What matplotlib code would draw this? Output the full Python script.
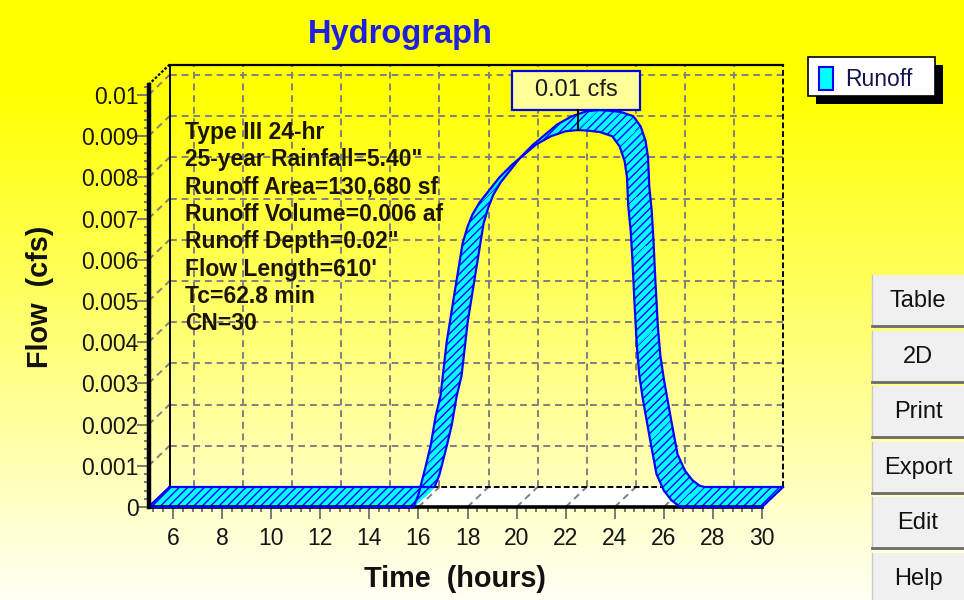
import numpy as np
import matplotlib
matplotlib.use("Agg")
import matplotlib.pyplot as plt
import matplotlib.transforms as mtransforms
from matplotlib.patches import Polygon, Rectangle
from matplotlib.lines import Line2D
from matplotlib.ticker import FixedLocator

# runoff hydrograph, front edge of the ribbon
time_hr = [5.0, 15.8, 16.0, 16.3, 16.5, 16.7, 16.9, 17.15, 17.5, 17.8,
           18.0, 18.2, 18.5, 18.9, 19.3, 19.8, 20.2, 20.8, 21.4, 22.0,
           22.5, 23.0, 23.4, 23.9, 24.2, 24.4, 24.5, 24.55, 24.65, 24.72,
           24.8, 24.9, 25.0, 25.15, 25.45, 25.7, 26.0, 26.3, 26.6, 26.8, 30.0]
flow_cfs = [0.0, 0.0, 0.0003, 0.0010, 0.0015, 0.0022, 0.0027, 0.0040, 0.0053, 0.0064,
            0.0068, 0.0071, 0.0074, 0.0077, 0.0080, 0.0083, 0.0085, 0.0088, 0.0090, 0.00912,
            0.00915, 0.00913, 0.0091, 0.0090, 0.00875, 0.0084, 0.0080, 0.0073, 0.0067, 0.0060,
            0.0050, 0.0039, 0.0032, 0.0026, 0.0016, 0.0008, 0.0004, 0.00017, 0.00003, 0.0, 0.0]

x_ticks = [6, 8, 10, 12, 14, 16, 18, 20, 22, 24, 26, 28, 30]
y_ticks = [0, 0.001, 0.002, 0.003, 0.004, 0.005, 0.006, 0.007, 0.008, 0.009, 0.01]
y_labels = ["0", "0.001", "0.002", "0.003", "0.004", "0.005",
            "0.006", "0.007", "0.008", "0.009", "0.01"]
info_lines = ["Type III 24-hr", '25-year Rainfall=5.40"', "Runoff Area=130,680 sf",
              "Runoff Volume=0.006 af", 'Runoff Depth=0.02"', "Flow Length=610'",
              "Tc=62.8 min", "CN=30"]
buttons = ["Table", "2D", "Print", "Export", "Edit", "Help"]
series_name = "Runoff"
peak_label = "0.01 cfs"

plt.rcParams['font.family'] = ['Liberation Sans', 'DejaVu Sans']
plt.rcParams['hatch.color'] = '#0000ff'
plt.rcParams['hatch.linewidth'] = 1.0

W, H = 964, 600
fig = plt.figure(figsize=(W / 100, H / 100), dpi=100)


def fx(px):
    return px / W


def fy(py):
    return 1 - py / H


# yellow -> cream background
bg = fig.add_axes([0, 0, 1, 1], zorder=-5)
rows = np.clip((np.arange(H) - 90) / (H - 90), 0, 1)
grad = np.ones((H, 1, 3))
grad[:, 0, 2] = rows * 0.96
bg.imshow(grad, aspect='auto', extent=[0, 1, 0, 1], origin='upper')
bg.axis('off')

# pseudo 3d box: front axes plus a depth shift
left_px, base_px = 148.5, 507
hr_px, cfs_px = 24.54, 41200
depth_x, depth_y = 21, 20
t0, t1, q_top = 5, 30, 0.01025
ddx = depth_x / hr_px
ddy = depth_y / cfs_px
aw = (t1 - t0) * hr_px + depth_x
ah = q_top * cfs_px + depth_y

ax = fig.add_axes([fx(left_px), fy(base_px), aw / W, ah / H])
ax.set_xlim(t0, t1 + ddx)
ax.set_ylim(0, q_top + ddy)
ax.set_facecolor('none')
for s in ax.spines.values():
    s.set_visible(False)

grid_kw = dict(color='#808080', lw=1.4, ls=(0, (3.5, 2.5)), zorder=1.5, clip_on=False)
# back wall grid
for v in x_ticks[:-1]:
    ax.plot([v + ddx, v + ddx], [ddy, q_top + ddy], **grid_kw)
for v in y_ticks[1:]:
    ax.plot([t0 + ddx, t1 + ddx], [v + ddy, v + ddy], **grid_kw)
    ax.plot([t0, t0 + ddx], [v, v + ddy], **grid_kw)

# floor
ax.add_patch(Polygon([(t0, 0), (t1, 0), (t1 + ddx, ddy), (t0 + ddx, ddy)],
                     facecolor='white', edgecolor='none', zorder=1))
for v in x_ticks:
    ax.plot([v, v + ddx], [0, ddy], **grid_kw)

# box edges
edge_kw = dict(color='black', clip_on=False, zorder=2)
ax.plot([t0 + ddx, t1 + ddx], [q_top + ddy] * 2, lw=1.6, **edge_kw)
ax.plot([t0 + ddx] * 2, [ddy, q_top + ddy], lw=1.4, **edge_kw)
ax.plot([t1 + ddx] * 2, [ddy, q_top + ddy], lw=1.4, ls=(0, (3, 1.5)), **edge_kw)
ax.plot([t0 + ddx, t1 + ddx], [ddy, ddy], lw=1.4, ls=(0, (3, 1.5)), **edge_kw)
ax.plot([t0, t0 + ddx], [q_top, q_top + ddy], lw=1.6, ls=(0, (1.2, 0.8)), **edge_kw)

# runoff ribbon
t = np.array(time_hr)
q = np.array(flow_cfs)
for i in range(len(t) - 1):
    quad = [(t[i], q[i]), (t[i + 1], q[i + 1]),
            (t[i + 1] + ddx, q[i + 1] + ddy), (t[i] + ddx, q[i] + ddy)]
    ax.add_patch(Polygon(quad, closed=True, facecolor='#00ffff', hatch='////',
                         linewidth=0, antialiased=False, zorder=3, clip_on=False))
line_kw = dict(color='#0000ff', lw=1.6, zorder=4, clip_on=False, solid_joinstyle='round')
ax.plot(t, q, **line_kw)
ax.plot(t + ddx, q + ddy, **line_kw)
ax.plot([t[0], t[0] + ddx], [q[0], q[0] + ddy], **line_kw)
ax.plot([t[-1], t[-1] + ddx], [q[-1], q[-1] + ddy], **line_kw)

# front axes lines
ax.plot([t0, t1], [0, 0], color='black', lw=2.6, zorder=3.5, clip_on=False)
ax.plot([t0, t0], [0, q_top], color='black', lw=3.2, zorder=5, clip_on=False)

# ticks
ax.xaxis.set_major_locator(FixedLocator(x_ticks))
ax.set_xticklabels([str(v) for v in x_ticks])
ax.xaxis.set_minor_locator(FixedLocator(np.arange(5.2, 30.01, 0.4)))
ax.set_yticks(y_ticks, labels=y_labels)
ax.yaxis.set_minor_locator(FixedLocator(np.arange(0.0002, 0.01021, 0.0002)))
ax.tick_params(which='both', direction='out', color='#707070', width=1.3,
               labelsize=16.5, labelcolor='#151515')
ax.tick_params(which='major', length=8.5)
ax.tick_params(which='minor', length=3.5)
ax.tick_params(axis='x', which='major', pad=6)
ax.tick_params(axis='y', which='major', pad=-1.5)

# peak label
ip = int(np.argmax(q))
off = fig.dpi_scale_trans + mtransforms.ScaledTranslation(t[ip], q[ip], ax.transData)
ax.add_patch(Rectangle((-0.66, 0.20), 1.28, 0.39, transform=off, facecolor='#ffff99',
                       edgecolor='#0000e6', lw=1.6, zorder=6, clip_on=False))
ax.plot([0, 0], [0, 0.20], transform=off, color='black', lw=1.5, zorder=6, clip_on=False)
ax.text(-0.02, 0.40, peak_label, transform=off, ha='center', va='center',
        fontsize=17, color='#1a1a1a', zorder=7)

# storm info text
for i, line in enumerate(info_lines):
    fig.text(fx(185), fy(139 + i * 27.3), line, fontsize=16.5, fontweight='bold',
             color='#1a1400', ha='left', va='baseline')

# titles
fig.text(fx(400), fy(43), "Hydrograph", fontsize=23.5, fontweight='bold', color='#1f1fe0',
         ha='center', va='baseline')
fig.text(fx(455), fy(587), "Time  (hours)", fontsize=20.8, fontweight='bold',
         color='#111111', ha='center', va='baseline')
fig.text(fx(40), fy(297), "Flow  (cfs)", fontsize=20.8, fontweight='bold', rotation=90,
         color='#111111', ha='center', va='center')

# legend box with drop shadow
fig.add_artist(Rectangle((fx(816), fy(104)), fx(127), 39 / H, transform=fig.transFigure,
                         facecolor='black', edgecolor='none'))
fig.add_artist(Rectangle((fx(808), fy(96)), fx(127), 39 / H, transform=fig.transFigure,
                         facecolor='white', edgecolor='black', lw=1.2))
fig.add_artist(Rectangle((fx(819), fy(90)), fx(14), 23 / H, transform=fig.transFigure,
                         facecolor='#00ffff', edgecolor='#0000ff', lw=1.5))
fig.text(fx(845), fy(79), series_name, fontsize=16.5, color='#141450', ha='left', va='center')

# side buttons
for i, name in enumerate(buttons):
    top = 275 + i * 55.6
    fig.add_artist(Rectangle((fx(872), fy(top + 50)), fx(95), 50 / H, transform=fig.transFigure,
                             facecolor='#f0f0f0', edgecolor='none'))
    fig.add_artist(Line2D([fx(872), fx(872)], [fy(top + 50), fy(top)], transform=fig.transFigure,
                          color='#c8c8c8', lw=1.0))
    fig.add_artist(Line2D([fx(872), 1], [fy(top + 51), fy(top + 51)], transform=fig.transFigure,
                          color='#6a6a6a', lw=2.0))
    fig.text(fx(918), fy(top + 26), name, fontsize=17, color='#111111', ha='center', va='center')

fig.savefig("out.png", dpi=100)
